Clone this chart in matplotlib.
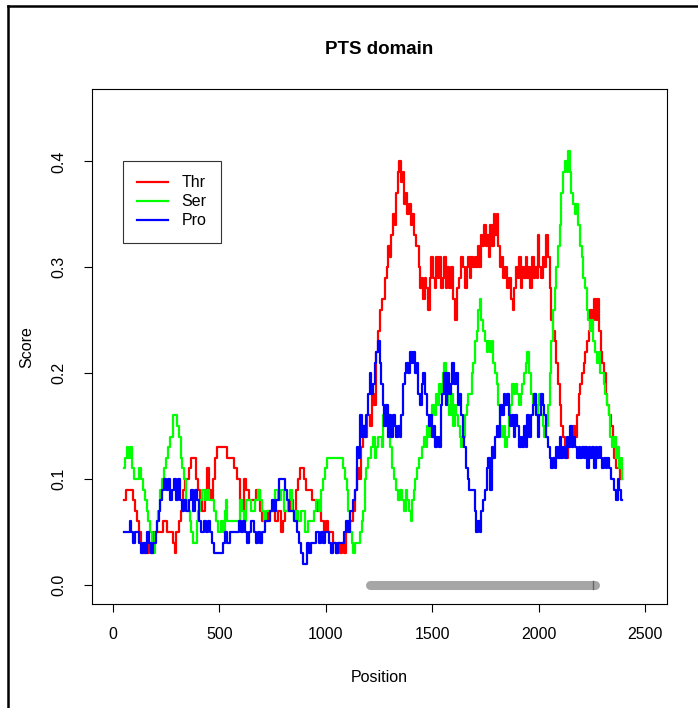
import matplotlib
matplotlib.use('Agg')
import matplotlib.pyplot as plt
from matplotlib.lines import Line2D

plt.rcParams['font.family'] = ['Liberation Sans', 'DejaVu Sans']

# Thr score along the sequence
thr_pos = [50, 60, 85, 95, 105, 112, 120, 130, 140, 150, 160, 170, 180, 190, 210, 235, 255, 270, 280, 290,
           298, 310, 320, 330, 340, 355, 365, 380, 390, 400, 410, 420, 430, 440, 450, 460, 470, 480, 490, 530,
           535, 560, 570, 580, 595, 605, 615, 625, 640, 660, 670, 685, 690, 700, 720, 730, 750, 760, 775, 790,
           800, 810, 830, 845, 860, 870, 880, 895, 905, 925, 935, 950, 960, 975, 990, 1000, 1010, 1025, 1035, 1045,
           1055, 1065, 1075, 1085, 1095, 1105, 1115, 1125, 1135, 1145, 1155, 1165, 1175, 1185, 1195, 1205, 1215, 1225, 1235, 1245,
           1255, 1265, 1275, 1285, 1290, 1300, 1305, 1315, 1325, 1330, 1338, 1345, 1352, 1360, 1368, 1375, 1382, 1390, 1398, 1405,
           1415, 1425, 1435, 1442, 1450, 1458, 1465, 1472, 1480, 1488, 1495, 1502, 1510, 1518, 1525, 1532, 1540, 1548, 1555, 1562,
           1570, 1578, 1585, 1595, 1605, 1615, 1625, 1635, 1645, 1652, 1660, 1668, 1675, 1682, 1690, 1698, 1705, 1712, 1720, 1728,
           1735, 1742, 1750, 1758, 1765, 1772, 1780, 1788, 1795, 1802, 1808, 1815, 1825, 1832, 1840, 1850, 1860, 1868, 1878, 1885,
           1892, 1900, 1908, 1915, 1922, 1930, 1938, 1945, 1952, 1960, 1968, 1975, 1982, 1990, 1996, 2002, 2010, 2018, 2026, 2034,
           2042, 2050, 2058, 2066, 2074, 2082, 2090, 2098, 2106, 2114, 2122, 2130, 2138, 2146, 2154, 2162, 2170, 2178, 2186, 2194,
           2202, 2210, 2218, 2226, 2234, 2242, 2250, 2258, 2266, 2274, 2282, 2290, 2298, 2306, 2314, 2322, 2330, 2338, 2346, 2354,
           2362, 2372, 2380, 2388]
thr = [0.08, 0.09, 0.09, 0.08, 0.07, 0.06, 0.05, 0.04, 0.03, 0.04, 0.03, 0.04, 0.03, 0.05, 0.05, 0.06, 0.05, 0.05, 0.04, 0.03,
       0.05, 0.06, 0.07, 0.09, 0.10, 0.11, 0.12, 0.12, 0.10, 0.09, 0.08, 0.07, 0.09, 0.11, 0.09, 0.08, 0.10, 0.12, 0.13, 0.13,
       0.12, 0.12, 0.11, 0.10, 0.08, 0.07, 0.10, 0.09, 0.08, 0.08, 0.09, 0.09, 0.07, 0.06, 0.06, 0.07, 0.07, 0.06, 0.07, 0.05,
       0.06, 0.07, 0.08, 0.07, 0.09, 0.10, 0.11, 0.10, 0.09, 0.09, 0.08, 0.08, 0.07, 0.06, 0.05, 0.06, 0.05, 0.05, 0.04, 0.03,
       0.04, 0.03, 0.04, 0.03, 0.05, 0.06, 0.06, 0.07, 0.09, 0.11, 0.10, 0.13, 0.15, 0.14, 0.16, 0.15, 0.18, 0.17, 0.22, 0.24,
       0.26, 0.27, 0.29, 0.30, 0.32, 0.31, 0.33, 0.35, 0.34, 0.37, 0.39, 0.40, 0.38, 0.39, 0.36, 0.37, 0.35, 0.36, 0.34, 0.35,
       0.33, 0.32, 0.30, 0.28, 0.29, 0.27, 0.29, 0.28, 0.26, 0.29, 0.31, 0.29, 0.28, 0.31, 0.29, 0.31, 0.28, 0.29, 0.31, 0.28,
       0.30, 0.28, 0.30, 0.27, 0.25, 0.28, 0.29, 0.31, 0.30, 0.28, 0.30, 0.31, 0.29, 0.31, 0.30, 0.31, 0.30, 0.32, 0.30, 0.33,
       0.32, 0.34, 0.32, 0.33, 0.31, 0.34, 0.32, 0.35, 0.33, 0.35, 0.32, 0.30, 0.31, 0.29, 0.30, 0.28, 0.29, 0.27, 0.26, 0.28,
       0.30, 0.29, 0.31, 0.28, 0.30, 0.29, 0.31, 0.29, 0.30, 0.28, 0.31, 0.29, 0.30, 0.29, 0.33, 0.30, 0.29, 0.31, 0.30, 0.33,
       0.31, 0.28, 0.25, 0.24, 0.23, 0.21, 0.19, 0.17, 0.15, 0.14, 0.13, 0.12, 0.13, 0.14, 0.13, 0.15, 0.14, 0.16, 0.18, 0.19,
       0.20, 0.21, 0.22, 0.23, 0.24, 0.26, 0.25, 0.27, 0.25, 0.27, 0.24, 0.22, 0.21, 0.20, 0.18, 0.17, 0.16, 0.15, 0.13, 0.12,
       0.11, 0.11, 0.10, 0.10]

# Ser score
ser_pos = [50, 58, 64, 72, 80, 88, 100, 110, 120, 130, 140, 150, 158, 166, 175, 183, 190, 198, 205, 213,
           220, 228, 240, 250, 260, 270, 280, 295, 302, 310, 318, 326, 334, 342, 352, 360, 368, 375, 385, 393,
           400, 410, 420, 430, 440, 450, 462, 475, 485, 495, 505, 515, 525, 530, 537, 560, 580, 595, 605, 615,
           625, 640, 650, 665, 680, 690, 700, 710, 720, 745, 760, 775, 790, 805, 820, 830, 840, 850, 860, 870,
           885, 900, 915, 930, 945, 955, 965, 975, 985, 995, 1005, 1075, 1082, 1090, 1097, 1105, 1112, 1120, 1128, 1136,
           1150, 1160, 1168, 1175, 1183, 1190, 1197, 1205, 1213, 1220, 1228, 1236, 1245, 1255, 1262, 1270, 1278, 1286, 1294, 1302,
           1310, 1320, 1330, 1340, 1350, 1358, 1366, 1374, 1382, 1390, 1398, 1405, 1412, 1420, 1428, 1436, 1444, 1452, 1460, 1468,
           1476, 1484, 1492, 1500, 1508, 1516, 1524, 1532, 1540, 1548, 1556, 1564, 1572, 1580, 1588, 1596, 1604, 1612, 1620, 1628,
           1636, 1644, 1652, 1660, 1668, 1676, 1684, 1692, 1700, 1708, 1716, 1724, 1730, 1738, 1746, 1754, 1762, 1770, 1778, 1786,
           1794, 1802, 1810, 1818, 1826, 1834, 1842, 1850, 1858, 1866, 1874, 1882, 1890, 1898, 1906, 1914, 1922, 1930, 1938, 1946,
           1954, 1962, 1970, 1978, 1986, 1994, 2002, 2010, 2018, 2026, 2034, 2042, 2050, 2058, 2066, 2074, 2082, 2090, 2098, 2106,
           2114, 2122, 2130, 2136, 2144, 2152, 2160, 2168, 2176, 2184, 2192, 2200, 2208, 2216, 2224, 2232, 2240, 2248, 2256, 2264,
           2272, 2280, 2288, 2296, 2304, 2312, 2320, 2328, 2336, 2344, 2352, 2360, 2368, 2376, 2384, 2390]
ser = [0.11, 0.12, 0.13, 0.12, 0.13, 0.11, 0.10, 0.10, 0.11, 0.10, 0.09, 0.08, 0.07, 0.06, 0.05, 0.04, 0.03, 0.05, 0.06, 0.07,
       0.09, 0.10, 0.11, 0.12, 0.13, 0.14, 0.16, 0.16, 0.15, 0.14, 0.12, 0.11, 0.10, 0.08, 0.07, 0.06, 0.05, 0.04, 0.04, 0.06,
       0.07, 0.08, 0.09, 0.08, 0.09, 0.08, 0.08, 0.07, 0.06, 0.05, 0.06, 0.05, 0.07, 0.08, 0.06, 0.06, 0.06, 0.08, 0.07, 0.06,
       0.08, 0.08, 0.07, 0.08, 0.09, 0.08, 0.07, 0.06, 0.07, 0.07, 0.09, 0.08, 0.09, 0.07, 0.08, 0.09, 0.07, 0.06, 0.07, 0.06,
       0.07, 0.05, 0.06, 0.06, 0.07, 0.08, 0.07, 0.09, 0.10, 0.11, 0.12, 0.12, 0.11, 0.10, 0.09, 0.07, 0.05, 0.04, 0.03, 0.04,
       0.04, 0.05, 0.06, 0.07, 0.10, 0.11, 0.12, 0.12, 0.13, 0.14, 0.12, 0.13, 0.14, 0.14, 0.13, 0.16, 0.17, 0.16, 0.14, 0.13,
       0.11, 0.10, 0.09, 0.08, 0.09, 0.08, 0.07, 0.09, 0.08, 0.07, 0.06, 0.08, 0.09, 0.10, 0.11, 0.12, 0.12, 0.13, 0.14, 0.13,
       0.15, 0.14, 0.16, 0.17, 0.16, 0.18, 0.17, 0.19, 0.18, 0.20, 0.21, 0.19, 0.17, 0.16, 0.18, 0.15, 0.17, 0.16, 0.15, 0.14,
       0.13, 0.14, 0.16, 0.17, 0.18, 0.18, 0.20, 0.21, 0.23, 0.24, 0.26, 0.27, 0.25, 0.24, 0.23, 0.22, 0.23, 0.22, 0.23, 0.21,
       0.20, 0.19, 0.17, 0.15, 0.14, 0.15, 0.13, 0.14, 0.16, 0.17, 0.19, 0.18, 0.19, 0.18, 0.17, 0.18, 0.19, 0.20, 0.21, 0.22,
       0.20, 0.18, 0.17, 0.18, 0.16, 0.17, 0.18, 0.16, 0.15, 0.14, 0.15, 0.17, 0.20, 0.23, 0.26, 0.28, 0.30, 0.32, 0.34, 0.37,
       0.39, 0.40, 0.39, 0.41, 0.39, 0.37, 0.36, 0.35, 0.36, 0.34, 0.32, 0.31, 0.29, 0.28, 0.26, 0.25, 0.24, 0.25, 0.23, 0.22,
       0.21, 0.22, 0.20, 0.20, 0.19, 0.18, 0.17, 0.16, 0.14, 0.13, 0.14, 0.12, 0.13, 0.11, 0.12, 0.10]

# Pro score
pro_pos = [50, 70, 78, 86, 95, 105, 115, 122, 130, 140, 148, 158, 170, 180, 190, 200, 208, 215, 222, 230,
           240, 250, 258, 266, 275, 285, 295, 305, 315, 325, 335, 345, 355, 365, 375, 385, 395, 405, 415, 425,
           435, 445, 455, 465, 475, 505, 515, 525, 535, 550, 575, 590, 600, 610, 620, 630, 640, 650, 660, 670,
           680, 690, 700, 712, 725, 735, 745, 755, 765, 780, 800, 808, 815, 825, 838, 850, 865, 875, 882, 890,
           905, 912, 920, 930, 945, 955, 965, 975, 985, 995, 1005, 1015, 1025, 1035, 1045, 1055, 1075, 1085, 1095, 1105,
           1115, 1125, 1135, 1145, 1152, 1160, 1168, 1175, 1182, 1190, 1198, 1205, 1212, 1220, 1228, 1236, 1245, 1252, 1258, 1266,
           1274, 1282, 1290, 1298, 1306, 1314, 1322, 1330, 1338, 1346, 1354, 1362, 1370, 1378, 1386, 1394, 1402, 1410, 1418, 1426,
           1434, 1442, 1450, 1458, 1466, 1474, 1482, 1490, 1498, 1506, 1514, 1522, 1530, 1538, 1546, 1554, 1562, 1570, 1578, 1586,
           1594, 1602, 1610, 1618, 1626, 1634, 1642, 1650, 1658, 1666, 1674, 1682, 1690, 1698, 1706, 1714, 1722, 1730, 1738, 1746,
           1754, 1762, 1770, 1778, 1786, 1794, 1802, 1810, 1818, 1826, 1834, 1842, 1850, 1858, 1866, 1874, 1882, 1890, 1898, 1906,
           1914, 1922, 1930, 1938, 1946, 1954, 1962, 1970, 1978, 1986, 1994, 2002, 2010, 2018, 2026, 2034, 2042, 2050, 2058, 2066,
           2074, 2082, 2090, 2098, 2106, 2114, 2122, 2130, 2138, 2146, 2154, 2162, 2170, 2178, 2186, 2194, 2202, 2210, 2218, 2226,
           2234, 2242, 2250, 2258, 2266, 2274, 2282, 2290, 2298, 2306, 2314, 2322, 2330, 2338, 2346, 2354, 2362, 2370, 2378, 2386,
           2392]
pro = [0.05, 0.05, 0.06, 0.05, 0.04, 0.05, 0.05, 0.04, 0.03, 0.04, 0.03, 0.05, 0.04, 0.03, 0.04, 0.05, 0.06, 0.07, 0.08, 0.09,
       0.10, 0.09, 0.10, 0.08, 0.09, 0.10, 0.08, 0.10, 0.08, 0.07, 0.08, 0.07, 0.08, 0.09, 0.07, 0.09, 0.08, 0.06, 0.05, 0.06,
       0.05, 0.06, 0.05, 0.04, 0.03, 0.03, 0.04, 0.05, 0.04, 0.05, 0.05, 0.06, 0.05, 0.06, 0.05, 0.04, 0.05, 0.06, 0.05, 0.04,
       0.05, 0.04, 0.05, 0.06, 0.06, 0.07, 0.08, 0.07, 0.08, 0.10, 0.10, 0.09, 0.08, 0.07, 0.07, 0.06, 0.05, 0.04, 0.03, 0.02,
       0.02, 0.04, 0.03, 0.04, 0.04, 0.05, 0.04, 0.05, 0.04, 0.05, 0.05, 0.04, 0.03, 0.04, 0.03, 0.04, 0.04, 0.05, 0.06, 0.05,
       0.07, 0.08, 0.09, 0.13, 0.12, 0.16, 0.14, 0.15, 0.14, 0.16, 0.18, 0.20, 0.18, 0.19, 0.21, 0.22, 0.23, 0.21, 0.19, 0.17,
       0.15, 0.17, 0.14, 0.16, 0.14, 0.16, 0.15, 0.14, 0.15, 0.14, 0.16, 0.19, 0.20, 0.21, 0.20, 0.22, 0.21, 0.22, 0.20, 0.21,
       0.18, 0.17, 0.19, 0.20, 0.18, 0.16, 0.15, 0.16, 0.14, 0.15, 0.13, 0.14, 0.13, 0.17, 0.18, 0.20, 0.17, 0.20, 0.18, 0.19,
       0.21, 0.19, 0.20, 0.17, 0.18, 0.16, 0.14, 0.13, 0.11, 0.10, 0.09, 0.09, 0.09, 0.07, 0.05, 0.06, 0.05, 0.07, 0.08, 0.09,
       0.11, 0.12, 0.09, 0.13, 0.12, 0.14, 0.15, 0.14, 0.17, 0.16, 0.18, 0.17, 0.18, 0.16, 0.15, 0.16, 0.14, 0.16, 0.15, 0.13,
       0.14, 0.13, 0.15, 0.13, 0.16, 0.14, 0.16, 0.17, 0.18, 0.16, 0.14, 0.16, 0.18, 0.17, 0.16, 0.14, 0.13, 0.12, 0.11, 0.12,
       0.11, 0.13, 0.12, 0.14, 0.12, 0.13, 0.12, 0.14, 0.13, 0.15, 0.13, 0.14, 0.13, 0.12, 0.13, 0.12, 0.13, 0.12, 0.13, 0.11,
       0.13, 0.12, 0.13, 0.11, 0.13, 0.12, 0.13, 0.12, 0.11, 0.12, 0.11, 0.12, 0.11, 0.10, 0.10, 0.09, 0.08, 0.10, 0.09, 0.08,
       0.08]

# PTS domain span drawn under the curves
domain_start = [1208, 1400]
domain_end = [1400, 2262]
domain_mark = 2256

series = [('Thr', thr_pos, thr, '#ff0000'),
          ('Ser', ser_pos, ser, '#00ff00'),
          ('Pro', pro_pos, pro, '#0000ff')]

fig = plt.figure(figsize=(6.98, 7.08), dpi=100)
ax = fig.add_axes([91.7 / 698, 1 - 604 / 708, (666.7 - 91.7) / 698, (604 - 89.3) / 708])

for s, e in zip(domain_start, domain_end):
    ax.plot([s, e], [0, 0], color='#a6a6a6', lw=6.5, solid_capstyle='round', zorder=1)
ax.plot([domain_mark, domain_mark], [-0.004, 0.004], color='#666666', lw=1, zorder=2)

for name, p, v, c in series:
    ax.step(p, v, where='post', color=c, lw=1.6, label=name, zorder=3)

ax.set_xlim(-100, 2600)
ax.set_ylim(-0.018, 0.468)
ax.set_xticks([0, 500, 1000, 1500, 2000, 2500])
ax.set_yticks([0.0, 0.1, 0.2, 0.3, 0.4])
ax.set_yticklabels(['0.0', '0.1', '0.2', '0.3', '0.4'], rotation=90, va='center')
ax.tick_params(axis='both', length=5.5, width=0.8, labelsize=11.5, direction='out')
ax.tick_params(axis='x', pad=11)
ax.tick_params(axis='y', pad=13)
for sp in ax.spines.values():
    sp.set_linewidth(0.8)

ax.set_title('PTS domain', fontsize=13.5, fontweight='bold', pad=25.5)
ax.set_xlabel('Position', fontsize=11.5, labelpad=20)
ax.set_ylabel('Score', fontsize=11.5, labelpad=12)

leg = ax.legend(loc='upper left', bbox_to_anchor=(123 / 698, 1 - 161 / 708),
                bbox_transform=fig.transFigure, fancybox=False, framealpha=1,
                edgecolor='#333333', fontsize=11.5, handlelength=1.9, handletextpad=0.85,
                labelspacing=0.25, borderpad=0.9, borderaxespad=0)
leg.get_frame().set_linewidth(0.8)

# outer frame (left and top edges visible in the crop)
fig.add_artist(Line2D([8 / 698, 8 / 698], [0, 1 - 6 / 708], color='black', lw=1.8))
fig.add_artist(Line2D([8 / 698, 1], [1 - 6 / 708, 1 - 6 / 708], color='black', lw=1.8))

fig.savefig('out.png', dpi=100)
